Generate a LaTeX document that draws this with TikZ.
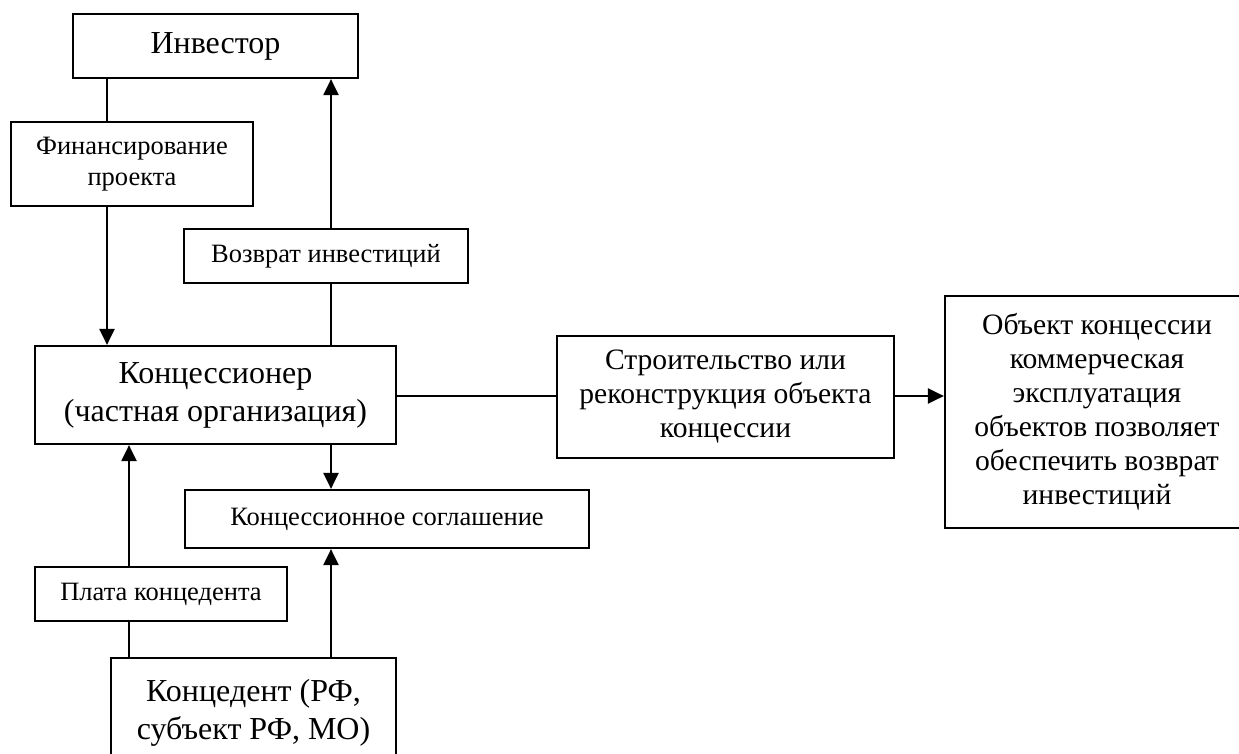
\documentclass[tikz,border=0pt]{standalone}
\usepackage{fontspec}
\setmainfont{Liberation Serif}
\usetikzlibrary{arrows.meta}
\tikzset{
  box/.style={draw, line width=2.2pt, rectangle, inner sep=0pt, align=center, anchor=center},
  big/.style={font=\fontsize{32}{38}\selectfont},
  mid/.style={font=\fontsize{29.6}{34}\selectfont},
  small/.style={font=\fontsize{26.5}{31}\selectfont},
  conn/.style={line width=2.2pt},
  arr/.style={line width=2.2pt, -{Triangle[length=16pt,width=15pt]}}
}
\begin{document}
\begin{tikzpicture}[x=1pt,y=-1pt]
\useasboundingbox (0,0) rectangle (1239,753);
\clip (0,0) rectangle (1239,753);
\node[box,big,minimum width=285pt,minimum height=64pt] (inv) at (215.5,46) {Инвестор};
\node[box,small,minimum width=242pt,minimum height=84pt] (fin) at (132,164) {Финансирование\\проекта};
\node[box,small,minimum width=284pt,minimum height=54pt] (voz) at (326,256) {Возврат инвестиций};
\node[box,big,minimum width=361pt,minimum height=98pt] (kon) at (215.5,395) {Концессионер\\(частная организация)};
\node[box,small,minimum width=404pt,minimum height=58pt] (ks) at (387,519) {Концессионное соглашение};
\node[box,small,minimum width=252pt,minimum height=54pt] (plata) at (161,594) {Плата концедента};
\node[box,big,minimum width=285pt,minimum height=110pt] (ked) at (253.5,713) {Концедент (РФ,\\субъект РФ, МО)};
\node[box,mid,minimum width=337pt,minimum height=122pt] (str) at (725.5,397) {Строительство или\\реконструкция объекта\\концессии};
\node[box,mid,minimum width=304pt,minimum height=232pt] (obj) at (1097,412) {Объект концессии\\коммерческая\\эксплуатация\\объектов позволяет\\обеспечить возврат\\инвестиций};
\coordinate (xa) at (107,0);
\coordinate (xb) at (331,0);
\coordinate (xc) at (129,0);
\coordinate (yr) at (0,396);
\draw[conn] (inv.south -| xa) -- (fin.north -| xa);
\draw[arr] (fin.south -| xa) -- (kon.north -| xa);
\draw[arr] (voz.north -| xb) -- (inv.south -| xb);
\draw[conn] (kon.north -| xb) -- (voz.south -| xb);
\draw[arr] (kon.south -| xb) -- (ks.north -| xb);
\draw[arr] (ked.north -| xb) -- (ks.south -| xb);
\draw[conn] (ked.north -| xc) -- (plata.south -| xc);
\draw[arr] (plata.north -| xc) -- (kon.south -| xc);
\draw[conn] (kon.east |- yr) -- (str.west |- yr);
\draw[arr] (str.east |- yr) -- (obj.west |- yr);
\end{tikzpicture}
\end{document}
